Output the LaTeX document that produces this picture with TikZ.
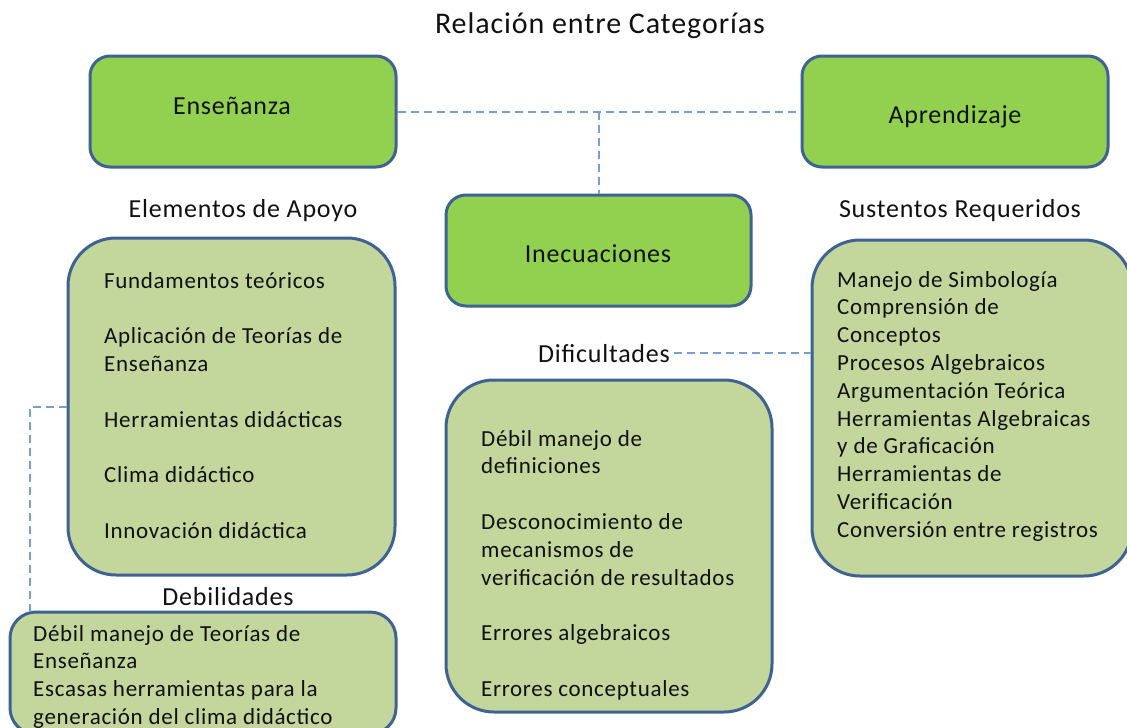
\documentclass[tikz,border=0pt]{standalone}
\usepackage{fontspec}
\setmainfont{Carlito}[LetterSpace=3]
\definecolor{brightgreen}{HTML}{92D050}
\definecolor{oliveg}{HTML}{C3D69B}
\definecolor{boxborder}{HTML}{3E6293}
\definecolor{dashblue}{HTML}{76A0D4}
\definecolor{txt}{HTML}{111111}
\tikzset{
 catbox/.style={draw=boxborder, line width=3pt, fill=brightgreen, rounded corners=20pt, inner sep=0pt},
 listbox/.style={draw=boxborder, line width=3pt, fill=oliveg, rounded corners=48pt, inner sep=0pt},
 link/.style={draw=dashblue, line width=2pt, dash pattern=on 8pt off 5pt},
 lbl/.style={anchor=base, inner sep=0pt, font=\fontsize{26}{30}\selectfont, text=txt},
 body/.style={anchor=base west, inner sep=0pt, font=\fontsize{23}{27.8}\selectfont, text=txt},
}
\begin{document}
\begin{tikzpicture}[x=1pt,y=-1pt]
\useasboundingbox (0,0) rectangle (1127,728);
\clip (0,0) rectangle (1127,728);
\fill[white] (0,0) rectangle (1127,728);
% title
\node[lbl, font=\fontsize{30}{34}\selectfont] (title) at (600,33) {Relación entre Categorías};
% category boxes
\node[catbox, minimum width=306pt, minimum height=111pt] (ens) at (243,111.5) {};
\node[catbox, minimum width=306pt, minimum height=111pt] (apr) at (955,111.5) {};
\node[catbox, minimum width=305pt, minimum height=111pt] (ine) at (598.5,250.5) {};
\node[lbl] (enst) at (232,114) {Enseñanza};
\node[lbl] (aprt) at (955,123) {Aprendizaje};
\node[lbl] (inet) at (598,262) {Inecuaciones};
% section labels
\node[lbl] (apoyo) at (243,217) {Elementos de Apoyo};
\node[lbl] (sust) at (960,217) {Sustentos Requeridos};
\node[lbl] (dif) at (604,362) {Dificultades};
\node[lbl] (deb) at (228,605) {Debilidades};
% list boxes
\node[listbox, minimum width=327pt, minimum height=337pt] (lbox) at (231.5,406.5) {};
\node[listbox, minimum width=320pt, minimum height=336pt] (rbox) at (972,408) {};
\node[listbox, minimum width=326pt, minimum height=332pt] (mbox) at (609,546) {};
\node[listbox, rounded corners=26pt, minimum width=386pt, minimum height=122pt] (bot) at (203,673) {};
% connectors
\coordinate (lk) at (30,612);
\draw[link] (ens.east) -- (apr.west);
\draw[link] (ens.east -| ine.north) -- (ine.north);
\draw[link] ([xshift=4pt]dif.east) -- (dif.east -| rbox.west);
\draw[link] (lbox.west) -| (lk);
% list texts
\node[body] (ltxt) at (104,288) {\begin{tabular}[t]{@{}l@{}}Fundamentos teóricos\\[27.8pt]
Aplicación de Teorías de\\ Enseñanza\\[27.8pt]
Herramientas didácticas\\[27.8pt]
Clima didáctico\\[27.8pt]
Innovación didáctica\end{tabular}};
\node[body] (rtxt) at (837,287) {\begin{tabular}[t]{@{}l@{}}Manejo de Simbología\\
Comprensión de\\
Conceptos\\
Procesos Algebraicos\\
Argumentación Teórica\\
Herramientas Algebraicas\\
y de Graficación\\
Herramientas de\\
Verificación\\
Conversión entre registros\end{tabular}};
\node[body] (mtxt) at (481,446) {\begin{tabular}[t]{@{}l@{}}Débil manejo de\\
definiciones\\[27.8pt]
Desconocimiento de\\
mecanismos de\\
verificación de resultados\\[27.8pt]
Errores algebraicos\\[27.8pt]
Errores conceptuales\end{tabular}};
\node[body] (btxt) at (33,641) {\begin{tabular}[t]{@{}l@{}}Débil manejo de Teorías de\\
Enseñanza\\
Escasas herramientas para la\\
generación del clima didáctico\end{tabular}};
\end{tikzpicture}
\end{document}
